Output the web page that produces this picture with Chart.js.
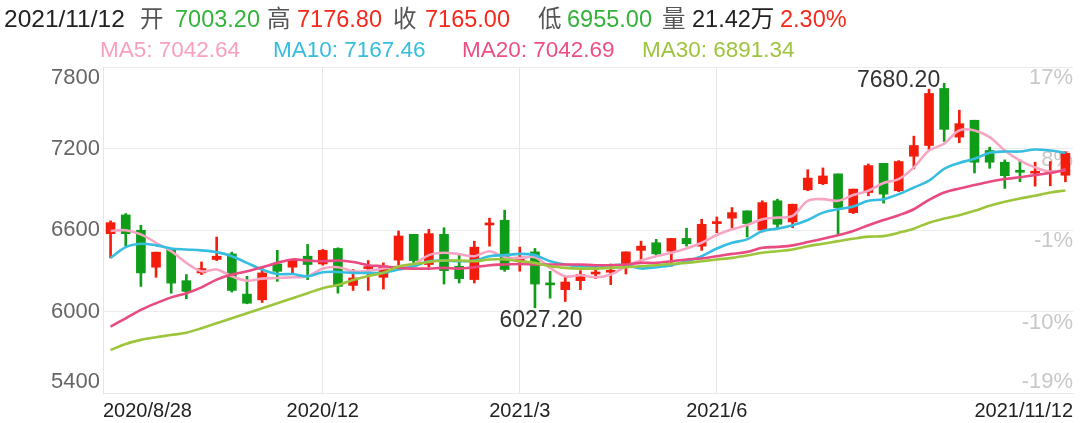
<!DOCTYPE html>
<html><head><meta charset="utf-8">
<script src="https://cdn.jsdelivr.net/npm/chart.js@4.4.1/dist/chart.umd.min.js"></script>
<style>
html,body{margin:0;padding:0;background:#fff;}
#wrap{position:relative;width:1080px;height:423px;overflow:hidden;font-family:"Liberation Sans",Arial,"Noto Sans CJK SC",sans-serif;}
#wrap canvas{position:absolute;left:0;top:0;}
.t{position:absolute;white-space:nowrap;line-height:1;}
.l1{top:8px;font-size:23.5px;}
.l2{top:39px;font-size:22.5px;}
.g{color:#555;}
.up{color:#f5281c;}
.dn{color:#33b33a;}
</style></head>
<body><div id="wrap"><canvas id="c" width="1080" height="423"></canvas>
<div class="t l1" style="left:4px;top:7px;font-size:24.5px;color:#222">2021/11/12</div>
<div class="t l1 g" style="left:140px">开</div>
<div class="t l1 dn" style="left:175px">7003.20</div>
<div class="t l1 g" style="left:267px">高</div>
<div class="t l1 up" style="left:297px">7176.80</div>
<div class="t l1 g" style="left:393px">收</div>
<div class="t l1 up" style="left:425px">7165.00</div>
<div class="t l1 g" style="left:538px">低</div>
<div class="t l1 dn" style="left:567px">6955.00</div>
<div class="t l1 g" style="left:662px">量</div>
<div class="t l1" style="left:692px;color:#222">21.42万</div>
<div class="t l1 up" style="left:780px">2.30%</div>
<div class="t l2" style="left:100px;color:#f9a0c0">MA5: 7042.64</div>
<div class="t l2" style="left:273px;color:#36bcdc">MA10: 7167.46</div>
<div class="t l2" style="left:462px;color:#ee4d85">MA20: 7042.69</div>
<div class="t l2" style="left:642px;color:#9dc43c">MA30: 6891.34</div>
</div>
<script>
const dates = ["2020/8/28","2020/9/4","2020/9/11","2020/9/18","2020/9/25","2020/10/2","2020/10/9","2020/10/16","2020/10/23","2020/10/30",
"2020/11/6","2020/11/13","2020/11/20","2020/11/27","2020/12/4","2020/12/11","2020/12/18","2020/12/25","2021/1/1","2021/1/8",
"2021/1/15","2021/1/22","2021/1/29","2021/2/5","2021/2/12","2021/2/19","2021/2/26","2021/3/5","2021/3/12","2021/3/19",
"2021/3/26","2021/4/2","2021/4/9","2021/4/16","2021/4/23","2021/4/30","2021/5/7","2021/5/14","2021/5/21","2021/5/28",
"2021/6/4","2021/6/11","2021/6/18","2021/6/25","2021/7/2","2021/7/9","2021/7/16","2021/7/23","2021/7/30","2021/8/6",
"2021/8/13","2021/8/20","2021/8/27","2021/9/3","2021/9/10","2021/9/17","2021/9/24","2021/10/1","2021/10/8","2021/10/15",
"2021/10/22","2021/10/29","2021/11/5","2021/11/12"];

const opens = [6573,6711,6598,6326,6457,6227,6284,6383,6424,6128,
6086,6350,6326,6407,6350,6464,6192,6316,6252,6378,
6568,6346,6568,6333,6235,6637,6672,6370,6439,6205,
6161,6227,6276,6289,6346,6450,6506,6444,6538,6481,
6647,6687,6741,6600,6815,6659,6896,6941,7013,6728,
6876,7091,6889,7143,7222,7642,7284,7408,7185,7099,
7035,7018,7020,7003.2];
const highs = [6667,6721,6635,6437,6464,6272,6365,6548,6437,6259,
6321,6450,6383,6494,6457,6469,6309,6375,6358,6593,
6568,6605,6617,6420,6518,6687,6746,6474,6464,6296,
6259,6301,6346,6350,6439,6518,6531,6538,6613,6679,
6696,6765,6741,6815,6827,6790,7044,7057,7013,6901,
7086,7091,7111,7291,7637,7680.2,7482,7408,7210,7116,
7116,7099,7104,7176.8];
const lows = [6395,6481,6185,6252,6135,6094,6272,6375,6143,6057,
6066,6222,6284,6235,6341,6135,6155,6155,6165,6333,
6350,6326,6202,6210,6210,6481,6296,6296,6027.2,6098,
6074,6161,6242,6198,6276,6370,6407,6333,6481,6450,
6580,6617,6548,6585,6617,6617,6889,6934,6568,6721,
6852,6798,6882,7050,7193,7252,7242,7020,7054,6906,
6955,6923,6926,6955];
const closes = [6654,6573,6284,6437,6209,6148,6316,6407,6155,6061,
6284,6296,6383,6346,6450,6185,6247,6326,6326,6556,
6375,6573,6301,6242,6474,6647,6309,6400,6202,6196,
6217,6272,6284,6296,6439,6481,6424,6538,6499,6642,
6662,6728,6647,6802,6642,6790,6982,6998,6765,6901,
7074,6864,7104,7222,7605,7341,7383,7099,7099,7000,
7025,7025,7030,7165];

const ma5 = [6593,6598,6568,6506,6444,6358,6296,6309,6259,6227,
6242,6247,6252,6259,6316,6326,6296,6301,6316,6333,
6348,6415,6432,6422,6407,6444,6400,6393,6400,6321,
6259,6267,6252,6272,6333,6375,6407,6432,6464,6506,
6563,6605,6637,6679,6691,6704,6815,6827,6815,6857,
6889,6946,6975,7061,7185,7235,7333,7333,7284,7185,
7111,7061,7029,7042.64];
const ma10 = [6395,6474,6499,6487,6464,6457,6450,6437,6407,6358,
6309,6276,6276,6259,6289,6291,6284,6284,6284,6309,
6333,6370,6375,6370,6375,6407,6415,6424,6415,6370,
6346,6333,6333,6341,6341,6316,6326,6341,6370,6407,
6464,6506,6531,6593,6610,6635,6674,6728,6753,6773,
6815,6827,6864,6913,6963,7050,7094,7124,7168,7178,
7178,7193,7185,7167.46];
const ma20 = [5889,5950,6012,6061,6104,6135,6178,6235,6272,6296,
6326,6358,6383,6375,6370,6375,6365,6341,6333,6321,
6316,6316,6321,6316,6326,6341,6346,6350,6346,6346,
6346,6346,6341,6341,6346,6358,6358,6370,6383,6390,
6407,6424,6439,6469,6476,6487,6511,6536,6561,6593,
6635,6674,6709,6753,6822,6876,6906,6931,6955,6975,
6988,7005,7020,7042.69];
const ma30 = [5717,5761,5791,5811,5827,5844,5877,5914,5950,5987,
6024,6061,6098,6135,6172,6195,6232,6262,6286,6331,
6350,6365,6375,6375,6370,6383,6383,6370,6358,6333,
6321,6316,6316,6321,6326,6333,6341,6350,6358,6370,
6383,6395,6412,6432,6444,6457,6481,6499,6518,6536,
6551,6555,6580,6610,6654,6684,6709,6741,6778,6808,
6832,6852,6876,6891.34];

const yTicks = [5400,6000,6600,7200,7800];
const pctLabels = ["-19%","-10%","-1%","8%","17%"];
const tickIdx = [0,14,27,40,63];
const tickText = ["2020/8/28","2020/12","2021/3","2021/6","2021/11/12"];

const RED = '#f41d0c', GREEN = '#0f9c18';
const candleColors = closes.map((c,i)=> c >= opens[i] ? RED : GREEN);
const FONT = '"Liberation Sans", Arial, sans-serif';
const FIRST = -0.5, LAST = dates.length - 0.5;

const annot = {
  id:'annot',
  afterDatasetsDraw(chart){
    const {ctx, scales:{x,y}} = chart;
    const hiVal = Math.max(...highs), hi = highs.indexOf(hiVal);
    const loVal = Math.min(...lows), lo = lows.indexOf(loVal);
    ctx.save();
    ctx.font = '23px ' + FONT;
    ctx.fillStyle = '#333';
    ctx.textAlign = 'right'; ctx.textBaseline = 'middle';
    ctx.fillText(hiVal.toFixed(2), x.getPixelForValue(hi) - 4, y.getPixelForValue(hiVal) - 3);
    ctx.textAlign = 'center'; ctx.textBaseline = 'top';
    ctx.fillText(loVal.toFixed(2), x.getPixelForValue(lo) + 6, y.getPixelForValue(loVal) + 1);
    ctx.restore();
  }
};

const lineDs = (label, data, color) => ({
  type:'line', label, data, borderColor:color, borderWidth:2.6, pointRadius:0,
  tension:0.35, fill:false, order:0, xAxisID:'x', yAxisID:'y'
});

new Chart(document.getElementById('c'), {
  type:'bar',
  data:{
    labels: dates,
    datasets:[
      lineDs('MA30', ma30, '#9cc53c'),
      lineDs('MA20', ma20, '#ea4a82'),
      lineDs('MA10', ma10, '#36bde0'),
      lineDs('MA5', ma5, '#f7a5c3'),
      {type:'bar', label:'body', data: opens.map((o,i)=>[o, closes[i]]), backgroundColor:candleColors,
        barThickness:9, minBarLength:2, grouped:false, order:1, xAxisID:'x', yAxisID:'y'},
      {type:'bar', label:'wick', data: lows.map((l,i)=>[l, highs[i]]), backgroundColor:candleColors,
        barThickness:2, grouped:false, order:2, xAxisID:'x', yAxisID:'y'}
    ]
  },
  options:{
    responsive:false, animation:false,
    layout:{padding:{top:67, right:7, bottom:0, left:0}},
    plugins:{legend:{display:false}, tooltip:{enabled:false}},
    scales:{
      x:{type:'category', display:false, offset:true},
      x2:{type:'linear', position:'bottom', min:FIRST, max:LAST, offset:false,
        afterBuildTicks: s => { s.ticks = tickIdx.map((v,i)=>({value: i===0 ? FIRST : (i===tickIdx.length-1 ? LAST : v)})); },
        afterFit: s => { s.height = 30; },
        ticks:{align:'inner', autoSkip:false, maxRotation:0, padding:6, color:'#222',
          font:{family:FONT, size:20},
          callback:(v,i)=>tickText[i]},
        grid:{offset:false, drawTicks:false, color: c => (c.tick && c.tick.value > FIRST && c.tick.value < LAST) ? '#e6e6e6' : 'rgba(0,0,0,0)'},
        border:{display:true, color:'#e8e8e8'}
      },
      y:{position:'left', min:5400, max:7800,
        afterBuildTicks: s => { s.ticks = yTicks.map(v=>({value:v})); },
        afterFit: s => { s.width = 103; },
        ticks:{padding:3, color:'#666', font:{family:FONT, size:22, lineHeight:1},
          callback: v => v === yTicks[yTicks.length-1] ? ['', String(v)] : (v === yTicks[0] ? [String(v), ''] : String(v))},
        grid:{drawTicks:false, color:'#ebebeb'},
        border:{display:true, color:'#e6e6e6'}
      },
      y1:{position:'right', min:0, max:4,
        afterBuildTicks: s => { s.ticks = pctLabels.map((p,i)=>({value:i})); },
        afterFit: s => { s.width = 0; },
        ticks:{mirror:true, padding:0, crossAlign:'near', color:'#c8c8c8', font:{family:FONT, size:22, lineHeight:1},
          callback:(v,i)=> i===0 ? [pctLabels[i], ''] : ['', pctLabels[i]]},
        grid:{display:false, drawTicks:false},
        border:{display:false}
      }
    }
  },
  plugins:[annot]
});
</script>
</body></html>
